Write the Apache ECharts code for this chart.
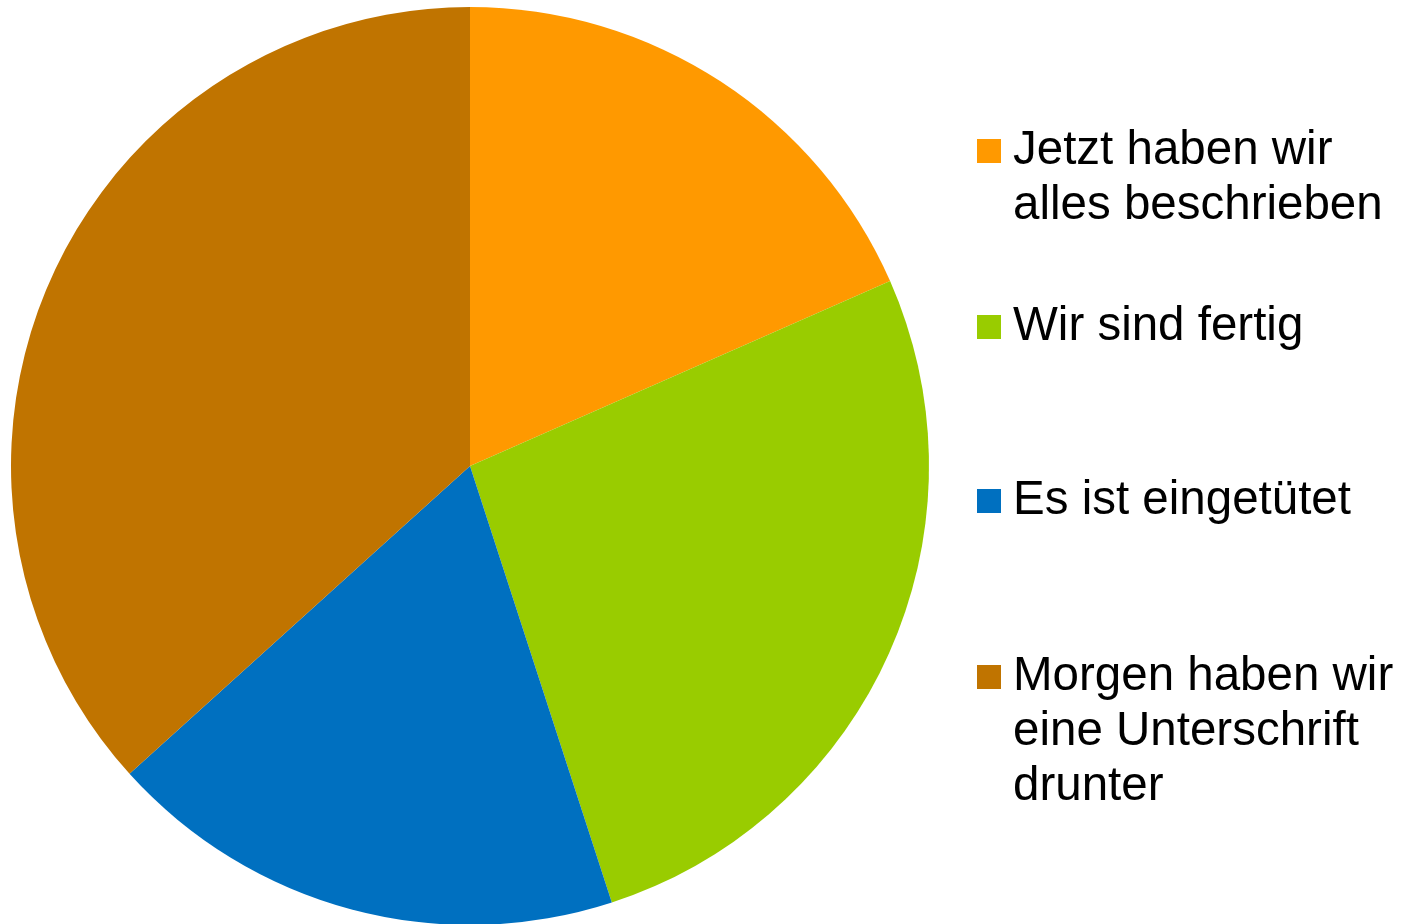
<!DOCTYPE html>
<html>
<head>
<meta charset="utf-8">
<title>Pie chart</title>
<script src="https://cdn.jsdelivr.net/npm/echarts@6/dist/echarts.min.js"></script>
<style>
  html, body { margin: 0; padding: 0; background: #ffffff; }
  #chart { width: 1412px; height: 924px; }
</style>
</head>
<body>
<div id="chart"></div>
<script>
// Slice names (legend text, with line breaks) and their shares
const categories = [
  'Jetzt haben wir\nalles beschrieben',
  'Wir sind fertig',
  'Es ist eingetütet',
  'Morgen haben wir\neine Unterschrift\ndrunter'
];
const values = [18.4, 26.6, 18.3, 36.7];
const colors = ['#FF9900', '#99CC00', '#0070C0', '#C07400'];

// Vertical centre of each legend marker
const legendMarkerY = [151, 327, 501, 677];

const FONT = '"Liberation Sans", Arial, sans-serif';
const FONT_SIZE = 47.5;
const LINE_H = 55;
const MARK = 24;      // drawn square size
const SLOT_W = 38;    // legend item slot; square is centred in it

// One legend per entry; blank leading lines keep the first line of a
// multi-line name level with its marker
const legends = categories.map((name, i) => {
  const lines = name.split('\n').length;
  const boxH = (2 * lines - 1) * LINE_H;
  return {
    data: [name],
    orient: 'vertical',
    left: 977,
    top: legendMarkerY[i] - boxH / 2,
    padding: 0,
    itemWidth: SLOT_W,
    itemHeight: MARK,
    icon: 'path://M0,0L10,0L10,10L0,10Z',
    itemStyle: { borderWidth: 0 },
    selectedMode: false,
    formatter: n => '\n'.repeat(n.split('\n').length - 1) + n,
    textStyle: {
      fontFamily: FONT,
      fontSize: FONT_SIZE,
      lineHeight: LINE_H,
      color: '#000000'
    }
  };
});

const chart = echarts.init(document.getElementById('chart'), null, { renderer: 'canvas' });
chart.setOption({
  animation: false,
  backgroundColor: '#ffffff',
  color: colors,
  legend: legends,
  series: [{
    type: 'pie',
    center: [470, 466],
    radius: 459,
    startAngle: 90,
    clockwise: true,
    label: { show: false },
    labelLine: { show: false },
    emphasis: { disabled: true },
    itemStyle: { borderWidth: 0 },
    data: categories.map((name, i) => ({ name: name, value: values[i] }))
  }]
});
</script>
</body>
</html>
